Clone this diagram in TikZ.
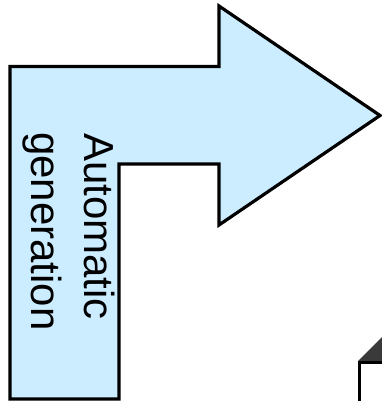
\documentclass[tikz,border=0pt]{standalone}
\usepackage{fontspec}
\setmainfont{Liberation Sans}
\definecolor{arrowblue}{RGB}{204,236,255}
\definecolor{roofgray}{RGB}{58,58,58}
\begin{document}
\begin{tikzpicture}[x=1pt,y=-1pt,
  outline/.style={draw=black,line width=3.2pt,line join=miter},
  vlabel/.style={rotate=-90,anchor=base west,inner sep=0pt,font=\fontsize{42}{50}\selectfont}]
\useasboundingbox (0,0) rectangle (382,401);
\clip (0,0) rectangle (382,401);
% bent arrow
\path[outline,fill=arrowblue]
  (10,399) -- (10,66.5) -- (219,66.5) -- (219,6) -- (380,115.5)
  -- (219,225) -- (219,164) -- (119,164) -- (119,399) -- cycle;
% labels
\node[vlabel] (auto) at (84,133) {Automatic};
\node[vlabel] (gen) at (31,132) {generation};
% partial icon bottom right
\fill[roofgray] (358,361) -- (383,336) -- (383,361) -- cycle;
\path[fill=white] (359,362) rectangle (383,402);
\draw[line width=3pt] (359,403) -- (359,362) -- (384,362);
\end{tikzpicture}
\end{document}
